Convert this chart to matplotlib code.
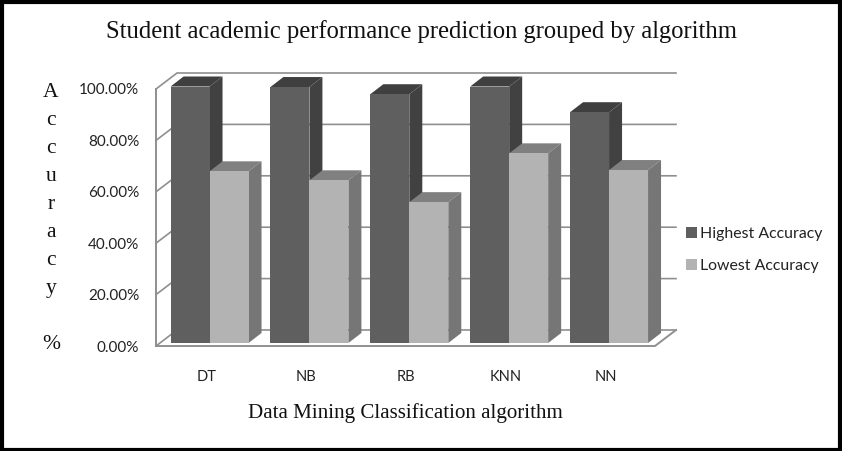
import matplotlib
matplotlib.use("Agg")
import matplotlib.pyplot as plt
from matplotlib.patches import Polygon, Rectangle
from matplotlib.transforms import ScaledTranslation
import numpy as np

algorithms = ["DT", "NB", "RB", "KNN", "NN"]
highest = [99.8, 99.6, 96.8, 99.8, 89.8]
lowest = [66.8, 63.3, 54.8, 73.8, 67.3]
y_ticks = [0, 20, 40, 60, 80, 100]

W, H = 842, 451
DPI = 100

fig = plt.figure(figsize=(W / DPI, H / DPI), dpi=DPI)
ax = fig.add_axes([156 / W, (H - 346) / H, 499 / W, 257 / H])

# one category is about 99.9 px wide, 100% is 257 px high
px_x = 1 / 99.9
px_y = 100 / 257
ax.set_xlim(-0.536, 4.46)
ax.set_ylim(0, 100)
ax.patch.set_visible(False)
for s in ax.spines.values():
    s.set_visible(False)

GRID = "#8f8f8f"
wall_dx, wall_dy = 21 * px_x, 16 * px_y
x0, x1 = ax.get_xlim()

# back wall grid lines and left wall ticks
for t in y_ticks:
    ax.plot([x0, x0 + wall_dx, x1 + wall_dx], [t, t + wall_dy, t + wall_dy],
            color=GRID, lw=1.2, clip_on=False, zorder=1)
ax.plot([x0, x0], [0, 100], color=GRID, lw=1.4, clip_on=False, zorder=1)
ax.plot([x0, x1, x1 + wall_dx], [0, 0, wall_dy], color=GRID, lw=1.4,
        clip_on=False, zorder=1)

# bars sit a bit behind the front edge of the floor
bar_w = 39 * px_x
off_y = 3 * px_y
depth_x, depth_y = 13 * px_x, 10 * px_y


def bar3d(x, val, front, top, side, z):
    l, r = x, x + bar_w
    b, t = off_y, val + off_y
    ax.add_patch(Rectangle((l, b), bar_w, val, fc=front, ec="none", zorder=z + 0.2, clip_on=False))
    ax.add_patch(Polygon([(l, t), (r, t), (r + depth_x, t + depth_y), (l + depth_x, t + depth_y)],
                         fc=top, ec="none", zorder=z, clip_on=False))
    ax.add_patch(Polygon([(r, b), (r + depth_x, b + depth_y), (r + depth_x, t + depth_y), (r, t)],
                         fc=side, ec="none", zorder=z, clip_on=False))


for i in range(len(algorithms)):
    bar3d(i - bar_w, highest[i], "#5f5f5f", "#3f3f3f", "#414141", 3)
    bar3d(i, lowest[i], "#b3b3b3", "#808080", "#767676", 4)

ax.set_xticks(range(len(algorithms)))
ax.set_xticklabels(algorithms, fontname="Lato", fontsize=10.5, color="#222222")
ax.set_yticks(y_ticks)
ax.set_yticklabels(["%.2f%%" % t for t in y_ticks], fontname="Lato", fontsize=11, color="#222222")
ax.tick_params(axis="x", length=0, pad=17)
ax.tick_params(axis="y", length=0, pad=12)
shift = ScaledTranslation(-3 / DPI, 0, fig.dpi_scale_trans)
for lab in ax.get_xticklabels():
    lab.set_transform(lab.get_transform() + shift)

fig.text(421 / W, 1 - 32 / H, "Student academic performance prediction grouped by algorithm",
         family="Liberation Serif", fontsize=17.7, ha="center", va="center", color="#111111")
fig.text(405 / W, 1 - 413 / H, "Data Mining Classification algorithm",
         family="Liberation Serif", fontsize=15.1, ha="center", va="center", color="#111111")
fig.text(51 / W, 1 - 83 / H, "A\nc\nc\nu\nr\na\nc\ny\n\n%",
         family="Liberation Serif", fontsize=15.5, ha="center", va="top", linespacing=1.64, color="#111111")

handles = [Rectangle((0, 0), 1, 1, fc="#5f5f5f"), Rectangle((0, 0), 1, 1, fc="#b3b3b3")]
fig.legend(handles, ["Highest Accuracy", "Lowest Accuracy"], loc="center left",
           bbox_to_anchor=(672 / W, 1 - 250 / H), frameon=False,
           prop={"family": "Lato", "size": 11.4}, labelcolor="#222222",
           handlelength=0.68, handleheight=0.68, handletextpad=0.2, labelspacing=1.1)

# black frame round the picture
fig.add_artist(Rectangle((1.5 / W, 1.5 / H), 838.5 / W, 448 / H, fill=False, ec="black",
                         lw=3, transform=fig.transFigure))

fig.savefig("out.png", dpi=DPI)
